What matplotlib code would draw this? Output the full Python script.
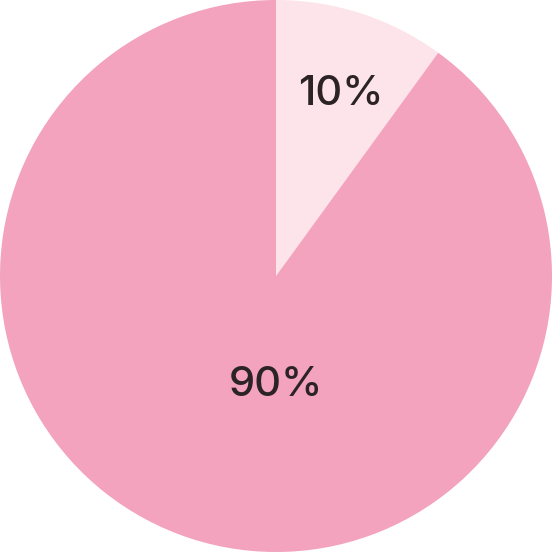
import matplotlib.pyplot as plt

# Donnees du camembert
labels = ['10%', '90%']
values = [10, 90]
colors = ['#FDE4EB', '#F3A3BD']

fig = plt.figure(figsize=(5.52, 5.52), dpi=100)
ax = fig.add_axes([0, 0, 1, 1])

wedges, _ = ax.pie(values, colors=colors, startangle=90, counterclock=False,
                   radius=1.0, wedgeprops={'linewidth': 0})

# Positions des etiquettes (en unites du rayon)
label_pos = [(0.235, 0.66), (0.0, -0.395)]
for txt, (x, y) in zip(labels, label_pos):
    ax.text(x, y, txt, ha='center', va='center', fontsize=30,
            color='#2B2326', family=['Inter', 'DejaVu Sans'], fontweight='medium')

ax.set_xlim(-1, 1)
ax.set_ylim(-1, 1)
ax.set_aspect('equal')
ax.axis('off')

fig.savefig('out.png', dpi=100)
plt.close(fig)
